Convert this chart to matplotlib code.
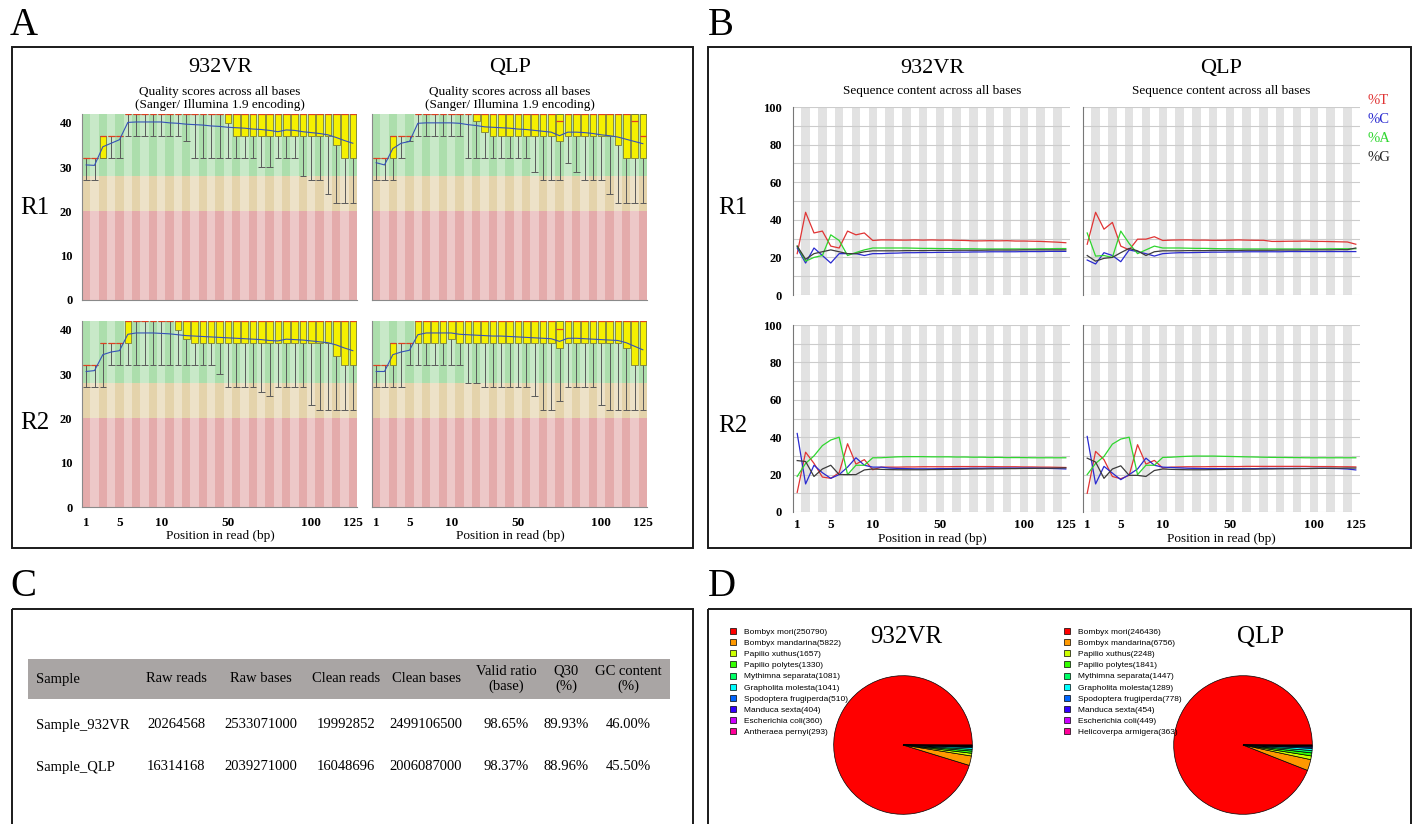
import matplotlib
matplotlib.use('Agg')
import matplotlib.pyplot as plt
from matplotlib.patches import Rectangle
import numpy as np

plt.rcParams['font.family'] = 'serif'
plt.rcParams['font.serif'] = ['Liberation Serif', 'DejaVu Serif']

W, H = 1416, 824

# read positions grouped the FastQC way (33 bins)
positions = [1, 2, 3, 4, 5, 6, 7, 8, 9, 10, 15, 20, 25, 30, 35, 40, 45, 50, 55,
             60, 65, 70, 75, 80, 85, 90, 95, 100, 105, 110, 115, 120, 125]
tick_pos = [1, 5, 10, 50, 100, 125]

# ---- A: per base quality (Q1, Q3, median, lower whisker, mean) ----
vr_r1_q1 = [32, 32, 32, 37, 37, 42, 42, 42, 42, 42, 42, 42, 42, 42, 42, 42, 42,
            40, 37, 37, 37, 37, 37, 37, 37, 37, 37, 37, 37, 37, 35, 32, 32]
vr_r1_q3 = [32, 32, 37, 37, 37, 42, 42, 42, 42, 42, 42, 42, 42, 42, 42, 42, 42,
            42, 42, 42, 42, 42, 42, 42, 42, 42, 42, 42, 42, 42, 42, 42, 42]
vr_r1_med = [32, 32, 37, 37, 37, 42, 42, 42, 42, 42, 42, 42, 42, 42, 42, 42, 42,
             42, 42, 42, 42, 42, 42, 42, 42, 42, 42, 42, 42, 42, 42, 42, 42]
vr_r1_low = [27, 27, 32, 32, 32, 37, 37, 37, 37, 37, 37, 37, 36, 32, 32, 32, 32,
             32, 32, 32, 32, 30, 30, 32, 32, 32, 28, 27, 27, 24, 22, 22, 22]
vr_r1_mean = [30.5, 30.4, 34.6, 35.4, 36.2, 40.1, 40.2, 40.2, 40.2, 40.2, 40.0,
              39.9, 39.7, 39.6, 39.5, 39.3, 39.2, 39.0, 38.9, 38.8, 38.6, 38.5,
              38.3, 38.0, 38.4, 38.3, 38.0, 37.8, 37.6, 37.3, 36.7, 36.0, 35.4]

qlp_r1_q1 = [32, 32, 32, 37, 37, 42, 42, 42, 42, 42, 42, 42, 40.5, 38, 37, 37, 37,
             37, 37, 37, 37, 37, 36, 37, 37, 37, 37, 37, 37, 35, 32, 32, 32]
qlp_r1_q3 = [32, 32, 37, 37, 37, 42, 42, 42, 42, 42, 42, 42, 42, 42, 42, 42, 42,
             42, 42, 42, 42, 42, 42, 42, 42, 42, 42, 42, 42, 42, 42, 42, 42]
qlp_r1_med = [32, 32, 37, 37, 37, 42, 42, 42, 42, 42, 42, 42, 42, 42, 42, 42, 42,
              42, 42, 42, 42, 42, 40.5, 42, 42, 42, 42, 42, 42, 42, 42, 40.5, 37]
qlp_r1_low = [27, 27, 27, 32, 36, 37, 37, 37, 37, 37, 37, 32, 32, 32, 32, 32, 32,
              32, 32, 29, 27, 27, 27, 31, 29, 27, 27, 27, 24, 22, 22, 22, 22]
qlp_r1_mean = [31.0, 30.5, 34.2, 35.4, 35.8, 39.9, 40.0, 40.0, 40.0, 40.0, 39.9,
               39.6, 39.4, 39.1, 39.0, 38.9, 38.8, 38.6, 38.5, 38.3, 38.1, 37.9,
               37.1, 37.9, 37.9, 37.8, 37.6, 37.3, 37.1, 36.8, 36.3, 35.8, 35.3]

vr_r2_q1 = [32, 32, 37, 37, 37, 37, 42, 42, 42, 42, 42, 40, 38, 37, 37, 37, 37,
            37, 37, 37, 37, 37, 37, 37, 37, 37, 37, 37, 37, 37, 34, 32, 32]
vr_r2_q3 = [32, 32, 37, 37, 37, 42, 42, 42, 42, 42, 42, 42, 42, 42, 42, 42, 42,
            42, 42, 42, 42, 42, 42, 42, 42, 42, 42, 42, 42, 42, 42, 42, 42]
vr_r2_med = [32, 32, 37, 37, 37, 42, 42, 42, 42, 42, 42, 42, 42, 42, 42, 42, 42,
             42, 42, 42, 42, 42, 42, 42, 42, 42, 42, 42, 42, 42, 42, 42, 42]
vr_r2_low = [27, 27, 27, 32, 32, 32, 32, 32, 32, 32, 32, 32, 32, 32, 32, 32, 30,
             27, 27, 27, 27, 26, 25, 27, 27, 27, 27, 23, 22, 22, 22, 22, 22]
vr_r2_mean = [30.6, 30.8, 34.4, 35.0, 35.3, 39.0, 39.3, 39.3, 39.3, 39.2, 39.1,
              38.9, 38.7, 38.6, 38.5, 38.4, 38.3, 38.2, 38.1, 38.0, 37.9, 37.8,
              37.6, 37.5, 37.9, 37.8, 37.7, 37.5, 37.3, 37.1, 36.6, 35.9, 35.3]

qlp_r2_q1 = [32, 32, 32, 37, 37, 37, 37, 37, 37, 38, 37, 37, 37, 37, 37, 37, 37,
             37, 37, 37, 37, 37, 36, 37, 37, 37, 37, 37, 37, 37, 36, 32, 32]
qlp_r2_q3 = [32, 32, 37, 37, 37, 42, 42, 42, 42, 42, 42, 42, 42, 42, 42, 42, 42,
             42, 42, 42, 42, 42, 42, 42, 42, 42, 42, 42, 42, 42, 42, 42, 42]
qlp_r2_med = [32, 32, 37, 37, 37, 42, 42, 42, 42, 42, 42, 42, 42, 42, 42, 42, 42,
              42, 42, 42, 42, 42, 40.3, 42, 42, 42, 42, 42, 42, 42, 42, 42, 42]
qlp_r2_low = [27, 27, 27, 27, 32, 32, 32, 32, 32, 32, 32, 28, 28, 27, 27, 27, 27,
              27, 27, 25, 22, 22, 24, 27, 27, 27, 27, 23, 22, 22, 22, 22, 22]
qlp_r2_mean = [30.6, 30.6, 34.4, 35.0, 35.4, 38.9, 39.3, 39.3, 39.3, 39.3, 39.0,
               38.9, 38.8, 38.7, 38.6, 38.6, 38.5, 38.4, 38.3, 38.2, 38.1, 38.0,
               37.4, 38.1, 38.1, 38.0, 37.9, 37.8, 37.7, 37.6, 37.1, 36.3, 35.5]

# ---- B: per base sequence content (%T, %C, %A, %G) ----
vr_r1_t = [22, 44, 33, 34, 26, 25, 34, 32, 33, 29, 29.3, 29.3, 29.2, 29.2, 29.3,
           29.2, 29.3, 29.2, 29.2, 29.1, 29.0, 28.8, 28.8, 28.9, 28.8, 28.9, 28.7,
           28.7, 28.6, 28.5, 28.3, 28.1, 27.8]
vr_r1_c = [25, 17, 25, 21, 17, 22, 22, 22, 21, 22, 22, 22.2, 22.3, 22.5, 22.5,
           22.6, 22.6, 22.7, 22.7, 22.8, 22.8, 22.9, 22.9, 23, 23, 23, 23, 23.1,
           23.1, 23.1, 23.2, 23.2, 23.2]
vr_r1_a = [26, 18, 20, 21, 32, 29, 21, 22.6, 24, 25, 25, 25, 25, 25, 24.9, 24.8,
           24.8, 24.7, 24.7, 24.6, 24.6, 24.6, 24.5, 24.5, 24.5, 24.5, 24.5, 24.5,
           24.5, 24.6, 24.6, 24.7, 24.7]
vr_r1_g = [26, 19, 22, 23, 24, 23, 22, 22, 23, 23.5, 23.5, 23.5, 23.5, 23.6, 23.6,
           23.6, 23.7, 23.7, 23.7, 23.8, 23.8, 23.8, 23.8, 23.9, 23.9, 23.9, 23.9,
           24, 24, 24, 24, 24, 24]

qlp_r1_t = [27, 44, 35, 38.6, 26, 24, 29.7, 29.7, 31, 29, 29.2, 29.3, 29.3, 29.2,
            29.2, 29.1, 29.1, 29.2, 29.3, 29.2, 29.1, 29.1, 28.5, 28.5, 28.6, 28.6,
            28.7, 28.5, 28.5, 28.4, 28.3, 28.2, 27]
qlp_r1_c = [18.6, 16.5, 22.5, 21, 17.7, 24, 23, 22, 20.7, 22, 22.3, 22.5, 22.5,
            22.6, 22.7, 22.8, 22.8, 22.9, 22.9, 23, 23, 23, 23, 23, 23.1, 23.1,
            23.1, 23.1, 23.1, 23.1, 23.1, 23.1, 23.1]
qlp_r1_a = [33, 20.7, 21, 20, 34, 27.4, 22, 24, 26, 25, 25, 25, 24.9, 24.8, 24.8,
            24.7, 24.6, 24.6, 24.5, 24.5, 24.5, 24.5, 24.5, 24.5, 24.5, 24.5, 24.5,
            24.5, 24.5, 24.6, 24.6, 24.6, 24.6]
qlp_r1_g = [21, 18, 19.5, 20, 22.5, 24.8, 23.5, 21, 23, 23.5, 23.5, 23.5, 23.6,
            23.6, 23.6, 23.7, 23.7, 23.7, 23.7, 23.8, 23.8, 23.8, 23.8, 23.9, 23.9,
            23.9, 24, 24, 24, 24, 24.1, 24.1, 25]

vr_r2_t = [10.5, 32, 26, 18.7, 18, 21, 36.5, 25.6, 28, 22.6, 24, 24, 24, 24.1,
           24.1, 24.2, 24.2, 24.2, 24.2, 24.3, 24.3, 24.3, 24.3, 24.3, 24.2, 24.2,
           24.2, 24.1, 24.1, 24, 24, 23.9, 23.8]
vr_r2_c = [42, 15, 25, 21, 18, 20, 24, 29, 25, 24, 24, 23.5, 23.3, 23.2, 23.1,
           23.1, 23.1, 23.2, 23.2, 23.3, 23.3, 23.4, 23.4, 23.5, 23.5, 23.5, 23.5,
           23.5, 23.5, 23.4, 23.3, 23.2, 23.0]
vr_r2_a = [19, 26, 30, 35.5, 38.5, 40, 20, 25, 25, 29, 29, 29.3, 29.5, 29.6, 29.6,
           29.6, 29.5, 29.5, 29.5, 29.4, 29.4, 29.3, 29.3, 29.2, 29.2, 29.1, 29.1,
           29.1, 29, 29, 29, 29, 29]
vr_r2_g = [27.5, 27, 19, 23, 25, 20, 20, 20, 22.5, 23, 22.8, 22.7, 22.6, 22.6,
           22.6, 22.6, 22.7, 22.7, 22.8, 22.8, 22.9, 23, 23, 23.1, 23.1, 23.2, 23.2,
           23.3, 23.3, 23.4, 23.4, 23.5, 23.6]

qlp_r2_t = [10, 32.4, 28, 19, 17.8, 19.6, 36, 25.6, 27.6, 23.5, 24, 24.1, 24.2,
            24.2, 24.2, 24.3, 24.3, 24.3, 24.3, 24.4, 24.4, 24.4, 24.4, 24.4, 24.4,
            24.4, 24.4, 24.3, 24.3, 24.3, 24.2, 24.2, 24.1]
qlp_r2_c = [40.4, 15, 24.4, 20.8, 17.3, 20, 23, 28.8, 25, 24, 23.8, 23.6, 23.4,
            23.3, 23.2, 23.2, 23.2, 23.2, 23.2, 23.2, 23.2, 23.3, 23.3, 23.3, 23.3,
            23.3, 23.3, 23.3, 23.4, 23.3, 23.2, 23, 22.5]
qlp_r2_a = [20, 26, 29.7, 36.3, 39, 40, 20, 25, 25, 29.2, 29.3, 29.6, 29.8, 29.9,
            29.9, 29.9, 29.8, 29.7, 29.6, 29.5, 29.4, 29.3, 29.2, 29.2, 29.1, 29.1,
            29, 29, 29, 29, 29, 29, 29]
qlp_r2_g = [28.8, 26.7, 18, 23, 24.7, 19.6, 19.6, 19, 22.2, 23, 22.8, 22.7, 22.6,
            22.6, 22.6, 22.7, 22.7, 22.8, 22.8, 22.9, 22.9, 23, 23, 23.1, 23.1,
            23.2, 23.2, 23.3, 23.3, 23.4, 23.4, 23.5, 23.5]

# ---- C: table ----
table_header = ['Sample', 'Raw reads', 'Raw bases', 'Clean reads', 'Clean bases',
                'Valid ratio\n(base)', 'Q30\n(%)', 'GC content\n(%)']
table_rows = [
    ['Sample_932VR', '20264568', '2533071000', '19992852', '2499106500',
     '98.65%', '89.93%', '46.00%'],
    ['Sample_QLP', '16314168', '2039271000', '16048696', '2006087000',
     '98.37%', '88.96%', '45.50%'],
]

# ---- D: species pies ----
vr_species = ['Bombyx mori', 'Bombyx mandarina', 'Papilio xuthus', 'Papilio polytes',
              'Mythimna separata', 'Grapholita molesta', 'Spodoptera frugiperda',
              'Manduca sexta', 'Escherichia coli', 'Antheraea pernyi']
vr_counts = [250790, 5822, 1657, 1330, 1081, 1041, 510, 404, 360, 293]
qlp_species = ['Bombyx mori', 'Bombyx mandarina', 'Papilio xuthus', 'Papilio polytes',
               'Mythimna separata', 'Grapholita molesta', 'Spodoptera frugiperda',
               'Manduca sexta', 'Escherichia coli', 'Helicoverpa armigera']
qlp_counts = [246436, 6756, 2248, 1841, 1447, 1289, 778, 454, 449, 363]
rainbow10 = ['#FF0000', '#FF9900', '#CCFF00', '#33FF00', '#00FF66',
             '#00FFFF', '#0066FF', '#3300FF', '#CC00FF', '#FF0099']

bins = np.arange(1, len(positions) + 1)
tick_bins = [positions.index(p) + 1 for p in tick_pos]

fig = plt.figure(figsize=(W / 100, H / 100), dpi=100)
ov = fig.add_axes([0, 0, 1, 1])
ov.set_xlim(0, W)
ov.set_ylim(H, 0)
ov.axis('off')


def px_ax(x0, y0, x1, y1):
    return fig.add_axes([x0 / W, 1 - y1 / H, (x1 - x0) / W, (y1 - y0) / H])


def pos_ticks(ax, show):
    ax.set_xticks(tick_bins)
    if show:
        ax.set_xticklabels([str(p) for p in tick_pos], fontsize=9.5, fontweight='bold')
    else:
        ax.set_xticklabels([])


def quality_panel(ax, q1, q3, med, low, mean, ylab, xlab):
    ax.set_xlim(0.5, len(bins) + 0.5)
    ax.set_ylim(0, 42)
    ax.axhspan(28, 42, color='#acdeac', lw=0)
    ax.axhspan(20, 28, color='#e4d3ab', lw=0)
    ax.axhspan(0, 20, color='#e4abab', lw=0)
    for b in bins[1::2]:
        ax.axvspan(b - 0.5, b + 0.5, color='white', alpha=0.35, lw=0)
    for b, a, c, m, w in zip(bins, q1, q3, med, low):
        if c > a:
            ax.add_patch(Rectangle((b - 0.4, a), 0.8, c - a, fc='#f5f000',
                                   ec='#6a6a30', lw=0.5, zorder=3))
        ax.vlines(b, w, a, color='#5a5a5a', lw=0.7, zorder=2)
        ax.hlines([w, c], b - 0.4, b + 0.4, color='#5a5a5a', lw=0.7, zorder=2)
        ax.hlines(m, b - 0.4, b + 0.4, color='#e04020', lw=0.9, zorder=4)
    ax.plot(bins, mean, color='#3552b8', lw=0.8, zorder=5)
    for s in ['top', 'right']:
        ax.spines[s].set_visible(False)
    for s in ['left', 'bottom']:
        ax.spines[s].set_color('#8a8a8a')
        ax.spines[s].set_linewidth(0.8)
    ax.tick_params(length=0, pad=7)
    ax.set_yticks([0, 10, 20, 30, 40])
    if ylab:
        ax.set_yticklabels(['0', '10', '20', '30', '40'], fontsize=9, fontweight='bold')
    else:
        ax.set_yticklabels([])
    pos_ticks(ax, xlab)


def content_panel(ax, t, c, a, g, ylab, xlab):
    ax.set_xlim(0.5, len(bins) + 0.5)
    ax.set_ylim(0, 100)
    for b in bins[1::2]:
        ax.axvspan(b - 0.5, b + 0.5, color='#e2e2e2', lw=0)
    ax.set_yticks(np.arange(0, 101, 20))
    ax.set_yticks(np.arange(10, 100, 20), minor=True)
    ax.grid(axis='y', which='both', color='#cccccc', lw=0.8)
    ax.set_axisbelow('line')
    ax.plot(bins, t, color='#e03434', lw=0.9)
    ax.plot(bins, c, color='#2a2ad0', lw=0.9)
    ax.plot(bins, a, color='#2ed62e', lw=0.9)
    ax.plot(bins, g, color='#3c3c3c', lw=0.9)
    for s in ['top', 'right', 'bottom']:
        ax.spines[s].set_visible(False)
    ax.spines['left'].set_color('#777777')
    ax.tick_params(axis='y', length=0, pad=8, which='both')
    ax.tick_params(axis='x', length=0, pad=5)
    if ylab:
        ax.set_yticklabels([str(v) for v in range(0, 101, 20)], fontsize=9,
                           fontweight='bold')
    else:
        ax.set_yticklabels([])
    pos_ticks(ax, xlab)


# panel frames and letters
for x0, y0, x1, y1 in [(12, 47, 693, 548), (708, 47, 1411, 548),
                       (12, 609, 693, 835), (708, 609, 1411, 835)]:
    ov.add_patch(Rectangle((x0, y0), x1 - x0, y1 - y0, fill=False,
                           ec='#1a1a1a', lw=1.4))
for letter, x, y in [('A', 10, 25), ('B', 708, 25), ('C', 10, 587), ('D', 708, 587)]:
    ov.text(x, y, letter, fontsize=28, ha='left', va='center')

# ---- A ----
quality_panel(px_ax(82, 114, 357, 300), vr_r1_q1, vr_r1_q3, vr_r1_med, vr_r1_low,
              vr_r1_mean, True, False)
quality_panel(px_ax(372, 114, 647, 300), qlp_r1_q1, qlp_r1_q3, qlp_r1_med, qlp_r1_low,
              qlp_r1_mean, False, False)
quality_panel(px_ax(82, 321, 357, 507), vr_r2_q1, vr_r2_q3, vr_r2_med, vr_r2_low,
              vr_r2_mean, True, True)
quality_panel(px_ax(372, 321, 647, 507), qlp_r2_q1, qlp_r2_q3, qlp_r2_med, qlp_r2_low,
              qlp_r2_mean, False, True)
for name, cx in [('932VR', 220), ('QLP', 510)]:
    ov.text(cx, 67, name, fontsize=16, ha='center', va='center')
    ov.text(cx, 92, 'Quality scores across all bases', fontsize=9.5,
            ha='center', va='center')
    ov.text(cx, 105, '(Sanger/ Illumina 1.9 encoding)', fontsize=9.5,
            ha='center', va='center')
    ov.text(cx, 536, 'Position in read (bp)', fontsize=9.5, ha='center', va='center')
ov.text(35, 208, 'R1', fontsize=18, ha='center', va='center')
ov.text(35, 423, 'R2', fontsize=18, ha='center', va='center')

# ---- B ----
content_panel(px_ax(793, 107, 1070, 295), vr_r1_t, vr_r1_c, vr_r1_a, vr_r1_g,
              True, False)
content_panel(px_ax(1083, 107, 1360, 295), qlp_r1_t, qlp_r1_c, qlp_r1_a, qlp_r1_g,
              False, False)
content_panel(px_ax(793, 325, 1070, 512), vr_r2_t, vr_r2_c, vr_r2_a, vr_r2_g,
              True, True)
content_panel(px_ax(1083, 325, 1360, 512), qlp_r2_t, qlp_r2_c, qlp_r2_a, qlp_r2_g,
              False, True)
for name, cx in [('932VR', 932), ('QLP', 1221)]:
    ov.text(cx, 68, name, fontsize=16, ha='center', va='center')
    ov.text(cx, 91, 'Sequence content across all bases', fontsize=9.5,
            ha='center', va='center')
    ov.text(cx, 539, 'Position in read (bp)', fontsize=9.5, ha='center', va='center')
ov.text(733, 208, 'R1', fontsize=18, ha='center', va='center')
ov.text(733, 426, 'R2', fontsize=18, ha='center', va='center')
for i, (lab, col) in enumerate([('%T', '#e03434'), ('%C', '#2a2ad0'),
                                ('%A', '#2ed62e'), ('%G', '#222222')]):
    ov.text(1367, 100 + i * 19, lab, fontsize=10.5, color=col, ha='left', va='center')

# ---- C ----
ov.add_patch(Rectangle((28, 659), 642, 40, color='#a9a5a4', lw=0))
col_x = [36, 176, 261, 346, 426, 506, 566, 628]
for j, (hdr, x) in enumerate(zip(table_header, col_x)):
    ov.text(x, 679, hdr, fontsize=10.5, ha='left' if j == 0 else 'center',
            va='center', linespacing=1.15)
for i, row in enumerate(table_rows):
    for j, (val, x) in enumerate(zip(row, col_x)):
        ov.text(x, 725 + i * 42, val, fontsize=10.5, ha='left' if j == 0 else 'center',
                va='center')

# ---- D ----
for counts, names, box, leg_x, title, tx in [
        (vr_counts, vr_species, (833, 675, 973, 815), 730, '932VR', 906),
        (qlp_counts, qlp_species, (1173, 675, 1313, 815), 1064, 'QLP', 1261)]:
    ax = px_ax(*box)
    wedges, _ = ax.pie(counts, colors=rainbow10, startangle=0, counterclock=True,
                       wedgeprops=dict(edgecolor='black', linewidth=0.5))
    ax.set_xlim(-1.01, 1.01)
    ax.set_ylim(-1.01, 1.01)
    labels = ['%s(%d)' % (n, v) for n, v in zip(names, counts)]
    ax.legend(wedges, labels, loc='upper left',
              bbox_to_anchor=(leg_x / W, 1 - 628 / H), bbox_transform=fig.transFigure,
              frameon=False, prop={'family': 'Liberation Sans', 'size': 6},
              handlelength=0.75, handleheight=0.75, handletextpad=0.9,
              labelspacing=0.38, borderpad=0, borderaxespad=0)
    ov.text(tx, 637, title, fontsize=18, ha='center', va='center')

fig.savefig('out.png', dpi=100)
